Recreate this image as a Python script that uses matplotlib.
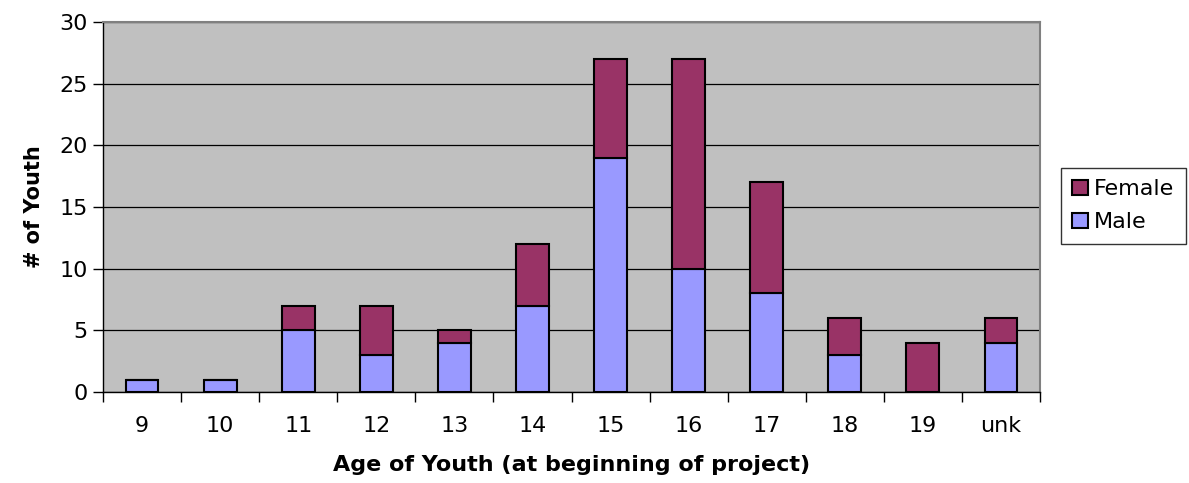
import matplotlib
matplotlib.use("Agg")
import matplotlib.pyplot as plt
import numpy as np

categories = ["9", "10", "11", "12", "13", "14", "15", "16", "17", "18", "19", "unk"]
male = [1, 1, 5, 3, 4, 7, 19, 10, 8, 3, 0, 4]
female = [0, 0, 2, 4, 1, 5, 8, 17, 9, 3, 4, 2]
yticks = [0, 5, 10, 15, 20, 25, 30]

plt.rcParams['font.family'] = ['DejaVu Sans']

fig = plt.figure(figsize=(11.89, 4.83), dpi=100)
ax = fig.add_axes([103/1189, 1-392/483, (1040-103)/1189, (392-22)/483])
ax.set_facecolor("#C0C0C0")

x = np.arange(len(categories))
w = 0.42
ax.bar(x, male, width=w, color="#9999FF", edgecolor="black", linewidth=1.5, label="Male", zorder=3)
ax.bar(x, female, width=w, bottom=male, color="#993366", edgecolor="black", linewidth=1.5, label="Female", zorder=3)

ax.set_xlim(-0.5, len(categories) - 0.5)
ax.set_ylim(0, 30)
ax.set_yticks(yticks)
ax.set_yticklabels([str(v) for v in yticks], fontsize=16)
ax.yaxis.grid(True, color="black", linewidth=0.9, zorder=1)
ax.set_axisbelow(True)

ax.set_xticks(np.arange(len(categories) + 1) - 0.5)
ax.set_xticklabels([])
ax.set_xticks(x, minor=True)
ax.set_xticklabels(categories, minor=True, fontsize=16)
ax.tick_params(axis='x', which='major', length=7, width=1, direction='out', color='black')
ax.tick_params(axis='x', which='minor', length=0, pad=17)
ax.tick_params(axis='y', length=7, width=1, direction='out', pad=4)

for s in ["top", "right"]:
    ax.spines[s].set_color("#808080")
    ax.spines[s].set_linewidth(1.5)
for s in ["left", "bottom"]:
    ax.spines[s].set_color("black")
    ax.spines[s].set_linewidth(1)

ax.set_xlabel("Age of Youth (at beginning of project)", fontsize=16, fontweight="bold", labelpad=14)
ax.set_ylabel("# of Youth", fontsize=15, fontweight="bold", labelpad=11)

handles, labels = ax.get_legend_handles_labels()
leg = fig.legend(handles[::-1], labels[::-1], loc="upper left",
                 bbox_to_anchor=(1061/1189, 1-168/483), fontsize=16,
                 frameon=True, fancybox=False, edgecolor="black",
                 handlelength=0.7, handleheight=0.7, handletextpad=0.3,
                 borderpad=0.5, labelspacing=0.6, borderaxespad=0)
leg.get_frame().set_linewidth(1)

fig.savefig("out.png", dpi=100)
